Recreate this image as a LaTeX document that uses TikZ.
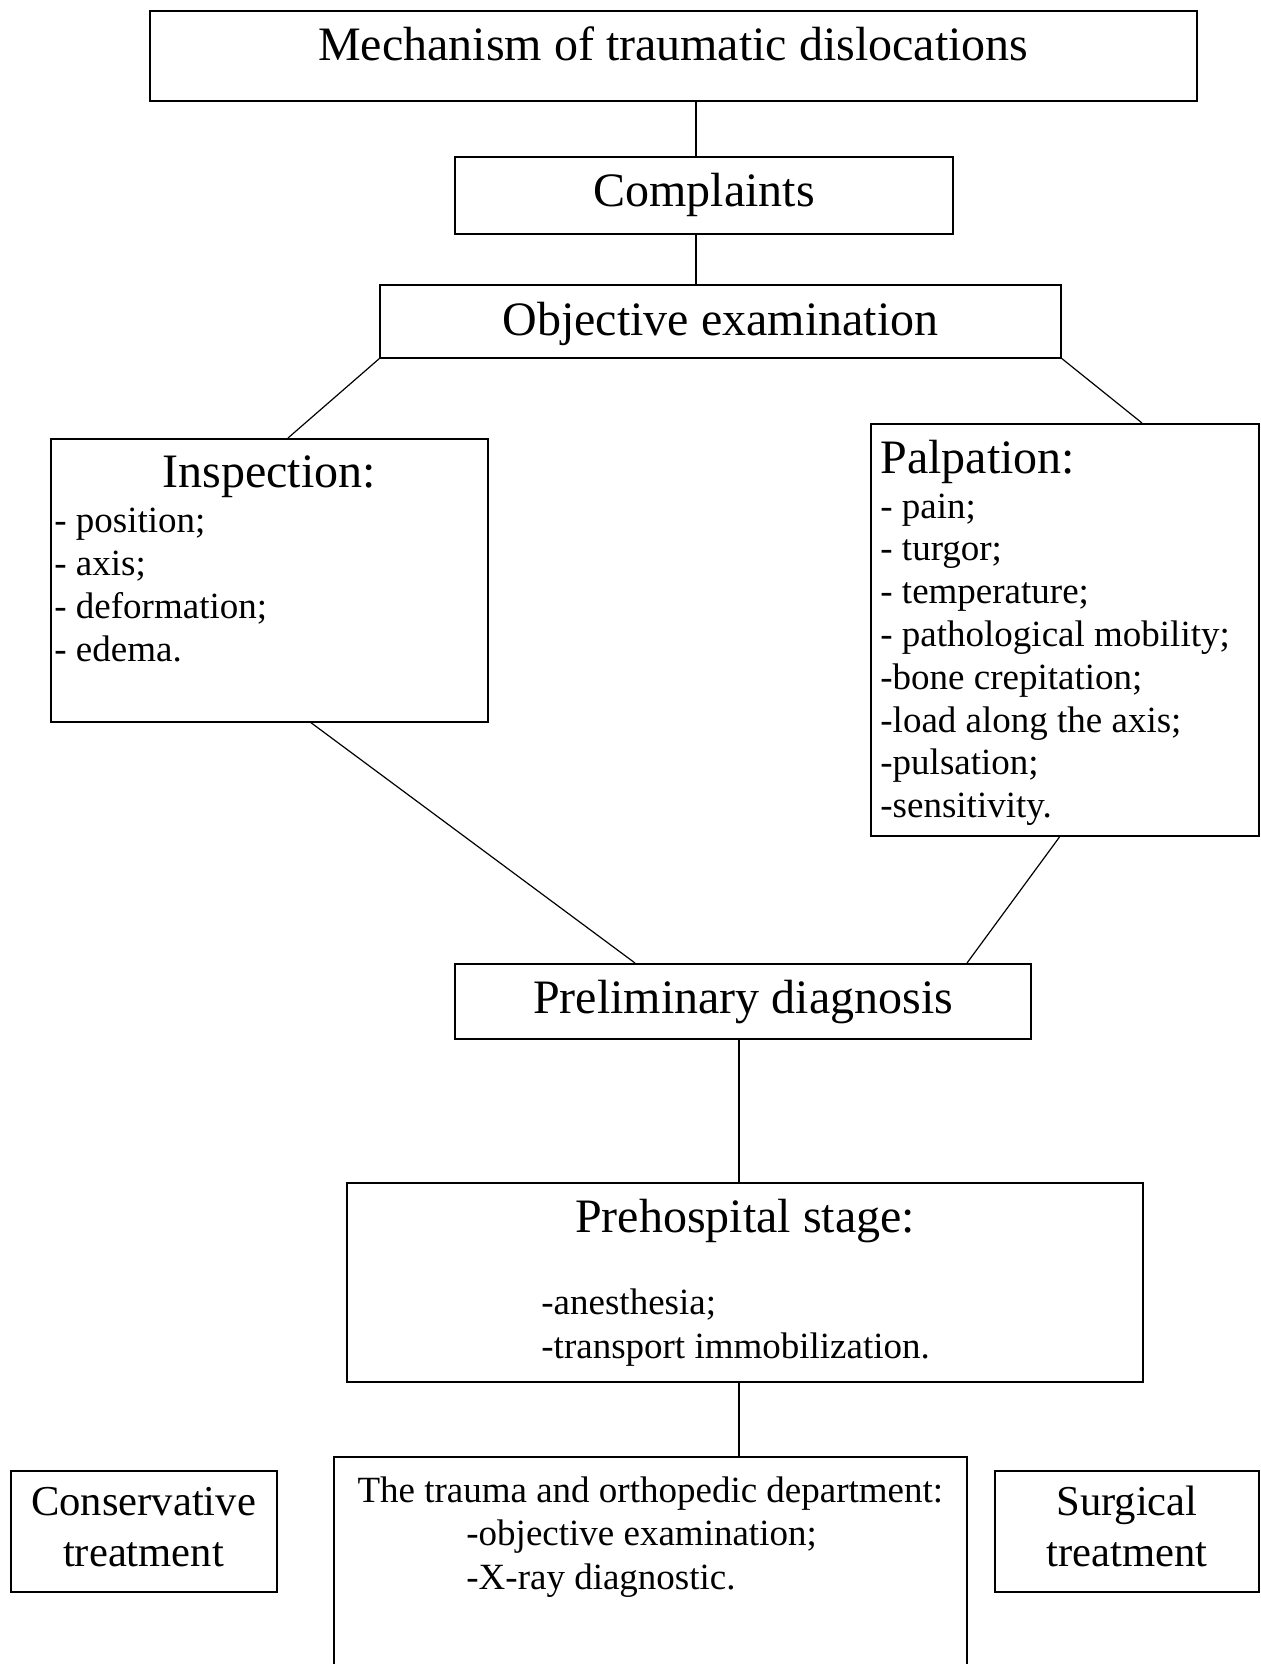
\documentclass[tikz,border=0pt]{standalone}
\usepackage{fontspec}
\setmainfont{Liberation Serif}
\usetikzlibrary{fit}

\tikzset{
  box/.style={draw=black, line width=1pt, inner sep=0pt, fill=none},
  link/.style={draw=black, line width=0.6pt},
  head/.style={inner sep=0pt, anchor=base, font=\fontsize{24}{28}\selectfont},
  item/.style={inner sep=0pt, anchor=base west, font=\fontsize{18.5}{21.5}\selectfont},
  itemc/.style={inner sep=0pt, anchor=base, font=\fontsize{18.5}{21.5}\selectfont},
  side/.style={inner sep=0pt, anchor=base, font=\fontsize{21.3}{25}\selectfont},
}

\begin{document}
\begin{tikzpicture}[x=0.5pt, y=-0.5pt]
  \useasboundingbox (0,0) rectangle (1260,1664);
  \clip (0,0) rectangle (1260,1664);
  \fill[white] (0,0) rectangle (1260,1664);

  % boxes
  \node[box, fit={(149.5,11) (1197,100.7)}] (mech) {};
  \node[box, fit={(455,157.3) (953.4,234.3)}] (comp) {};
  \node[box, fit={(380.2,285) (1061,357.7)}] (obj) {};
  \node[box, fit={(50.6,439) (488,721.7)}] (insp) {};
  \node[box, fit={(870.6,424) (1258.5,836)}] (palp) {};
  \node[box, fit={(455,964) (1031,1039.3)}] (prelim) {};
  \node[box, fit={(347,1183.3) (1143,1382.3)}] (prehosp) {};
  \node[box, fit={(333.6,1457) (967,1720)}] (trauma) {};
  \node[box, fit={(10.5,1471) (276.5,1592)}] (cons) {};
  \node[box, fit={(995,1471) (1258.5,1592)}] (surg) {};

  % headings
  \node[head] (mech-t) at (673.3,61) {Mechanism of traumatic dislocations};
  \node[head] (comp-t) at (704.2,207) {Complaints};
  \node[head] (obj-t) at (720.6,335) {Objective examination};
  \node[head] (insp-t) at (269.3,487) {Inspection:};
  \node[head, anchor=base west] (palp-t) at (880,473) {Palpation:};
  \node[head] (prelim-t) at (743,1013) {Preliminary diagnosis};
  \node[head] (prehosp-t) at (745,1232) {Prehospital stage:};

  % inspection list
  \foreach \t [count=\i] in {{- position;},{- axis;},{- deformation;},{- edema.}}
    \node[item] (insp-\i) at (54,{532+43*(\i-1)}) {\t};

  % palpation list
  \foreach \t [count=\i] in {{- pain;},{- turgor;},{- temperature;},{- pathological mobility;},
      {-bone crepitation;},{-load along the axis;},{-pulsation;},{-sensitivity.}}
    \node[item] (palp-\i) at (880,{518+42.8*(\i-1)}) {\t};

  % prehospital stage list
  \node[item] (pre-1) at (541,1314) {-anesthesia;};
  \node[item] (pre-2) at (541,1358) {-transport immobilization.};

  % department
  \node[itemc] (trauma-t) at (650.3,1502) {The trauma and orthopedic department:};
  \node[item] (trauma-1) at (466,1545) {-objective examination;};
  \node[item] (trauma-2) at (466,1589) {-X-ray diagnostic.};

  % side boxes
  \node[side] (cons-1) at (143.5,1515) {Conservative};
  \node[side] (cons-2) at (143.5,1566) {treatment};
  \node[side] (surg-1) at (1127,1515) {Surgical};
  \node[side] (surg-2) at (1127,1566) {treatment};

  % connectors
  \coordinate (xa) at (696,0);
  \coordinate (xi) at (288,0);
  \coordinate (xp) at (1142,0);
  \coordinate (xib) at (311,0);
  \coordinate (xpl) at (635,0);
  \coordinate (xpb) at (1059.5,0);
  \coordinate (xpr) at (967,0);
  \coordinate (xd) at (739,0);

  \draw[link] (mech.south -| xa) -- (comp.north -| xa);
  \draw[link] (comp.south -| xa) -- (obj.north -| xa);
  \draw[link] (obj.south west) -- (insp.north -| xi);
  \draw[link] (obj.south east) -- (palp.north -| xp);
  \draw[link] (insp.south -| xib) -- (prelim.north -| xpl);
  \draw[link] (palp.south -| xpb) -- (prelim.north -| xpr);
  \draw[link] (prelim.south -| xd) -- (prehosp.north -| xd);
  \draw[link] (prehosp.south -| xd) -- (trauma.north -| xd);
\end{tikzpicture}
\end{document}
